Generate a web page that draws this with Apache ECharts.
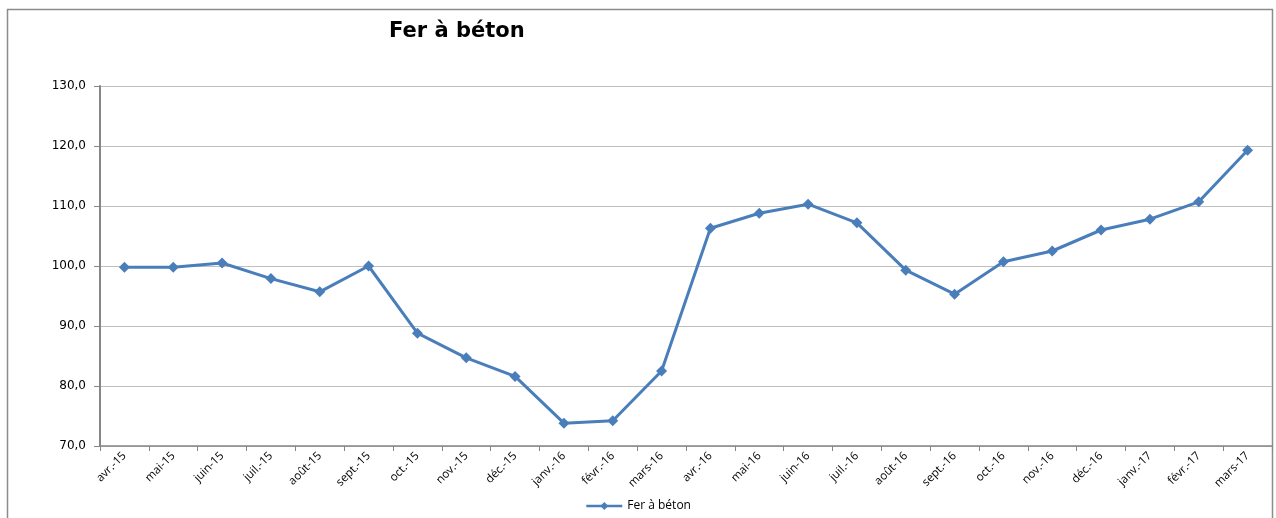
<!DOCTYPE html>
<html>
<head>
<meta charset="utf-8">
<script src="https://cdn.jsdelivr.net/npm/echarts@6/dist/echarts.min.js"></script>
<style>
  html, body { margin: 0; padding: 0; background: #fff; }
  #chart { width: 1276px; height: 518px; }
</style>
</head>
<body>
<div id="chart"></div>
<script>
  // Mois (avr. 2015 -> mars 2017)
  var months = ['avr.-15', 'mai-15', 'juin-15', 'juil.-15', 'août-15', 'sept.-15', 'oct.-15', 'nov.-15',
    'déc.-15', 'janv.-16', 'févr.-16', 'mars-16', 'avr.-16', 'mai-16', 'juin-16', 'juil.-16',
    'août-16', 'sept.-16', 'oct.-16', 'nov.-16', 'déc.-16', 'janv.-17', 'févr.-17', 'mars-17']
  // Indice fer à béton
  var ferBeton = [99.8, 99.8, 100.5, 97.9, 95.7, 100.0, 88.8, 84.7,
    81.6, 73.8, 74.2, 82.5, 106.3, 108.8, 110.3, 107.2,
    99.3, 95.3, 100.7, 102.5, 106.0, 107.8, 110.7, 119.3]
  var yMin = 70
  var yMax = 130
  var yStep = 10

  var font = '"Open Sans", "DejaVu Sans", sans-serif'
  var chart = echarts.init(document.getElementById('chart'))
  chart.setOption({
    animation: false,
    graphic: [
      {
        type: 'rect',
        shape: { x: 7.5, y: 9.5, width: 1265, height: 520 },
        style: { fill: 'none', stroke: '#8c8c8c', lineWidth: 1.5 },
        silent: true
      }
    ],
    title: {
      text: 'Fer à béton',
      left: 384,
      top: 16,
      textStyle: { fontFamily: '"DejaVu Sans", sans-serif', fontSize: 21, fontWeight: 'bold', color: '#000' }
    },
    legend: {
      bottom: 1,
      left: 'center',
      itemWidth: 36,
      itemHeight: 10,
      itemGap: 6,
      lineStyle: { width: 2.5 },
      textStyle: { fontFamily: font, fontSize: 12, color: '#000' },
      data: ['Fer à béton']
    },
    grid: { left: 100, right: 4, top: 86, bottom: 72 },
    xAxis: {
      type: 'category',
      data: months,
      boundaryGap: true,
      axisLine: { lineStyle: { color: '#868686', width: 1.5 } },
      axisTick: { show: true, length: 5, alignWithLabel: false, lineStyle: { color: '#868686' } },
      axisLabel: {
        rotate: 45,
        interval: 0,
        margin: 8,
        fontFamily: font,
        fontSize: 11.5,
        color: '#000'
      },
      splitLine: { show: false }
    },
    yAxis: {
      type: 'value',
      min: yMin,
      max: yMax,
      interval: yStep,
      axisLine: { show: true, lineStyle: { color: '#868686', width: 2 } },
      axisTick: { show: true, length: 6, lineStyle: { color: '#868686' } },
      axisLabel: {
        fontFamily: '"DejaVu Sans", sans-serif',
        fontSize: 12,
        color: '#000',
        margin: 14,
        formatter: function (v) { return v.toFixed(1).replace('.', ',') }
      },
      splitLine: { lineStyle: { color: '#bfbfbf', width: 1.2 } }
    },
    series: [
      {
        name: 'Fer à béton',
        type: 'line',
        data: ferBeton,
        symbol: 'diamond',
        symbolSize: 11,
        lineStyle: { color: '#4a7ebb', width: 3 },
        itemStyle: { color: '#4a7ebb' }
      }
    ]
  })
</script>
</body>
</html>
